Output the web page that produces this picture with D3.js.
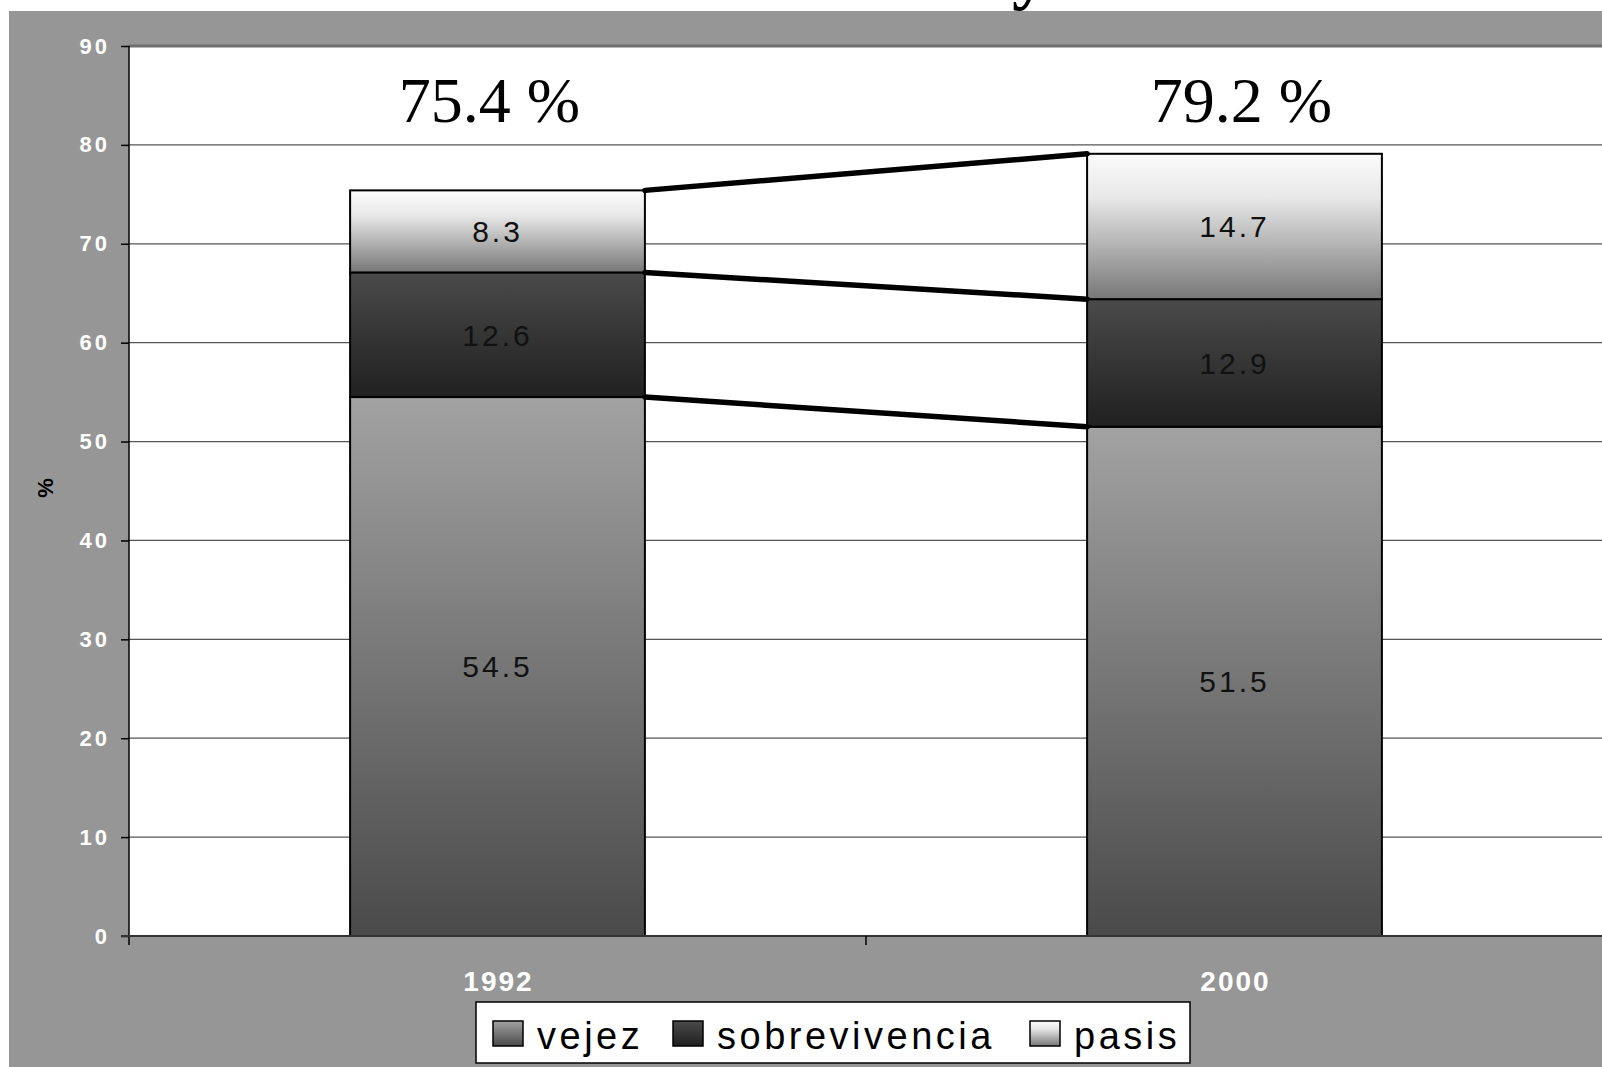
<!DOCTYPE html>
<html>
<head>
<meta charset="utf-8">
<script src="https://cdn.jsdelivr.net/npm/d3@7"></script>
<style>
  body { margin: 0; background: #fff; }
  svg { display: block; }
</style>
</head>
<body>
<svg id="chart" width="1602" height="1067"></svg>
<script>
// datos
const years = ['1992', '2000'];
const series = ['vejez', 'sobrevivencia', 'pasis'];
const vejez = [54.5, 51.5];
const sobrevivencia = [12.6, 12.9];
const pasis = [8.3, 14.7];
const totalLabels = ['75.4 %', '79.2 %'];
const yTicks = [0, 10, 20, 30, 40, 50, 60, 70, 80, 90];

const width = 1602;
const height = 1067;
const plot = { left: 129, top: 46, right: 1603, bottom: 936 };

const svg = d3.select('#chart');

// gradientes tipo Excel
const defs = svg.append('defs');
const grads = {
    vejez: [[0, '#a2a2a2'], [1, '#4a4a4a']],
    sobrevivencia: [[0, '#4a4a4a'], [1, '#202020']],
    pasis: [[0, '#fbfbfb'], [0.3, '#e8e8e8'], [1, '#777777']]
};
Object.keys(grads).forEach(k => {
    const g = defs.append('linearGradient')
        .attr('id', 'g-' + k)
        .attr('x1', 0).attr('y1', 0).attr('x2', 0).attr('y2', 1);
    grads[k].forEach(s => g.append('stop').attr('offset', s[0]).attr('stop-color', s[1]));
});

// fondo
svg.append('rect').attr('width', width).attr('height', height).attr('fill', '#fff');
svg.append('rect').attr('x', 9).attr('y', 11).attr('width', width).attr('height', height)
    .attr('fill', '#969696');
// resto del titulo (cortado por arriba, como en la diapositiva)
svg.append('text')
    .attr('x', 1030).attr('y', -4)
    .attr('text-anchor', 'middle')
    .style('font-family', '"Liberation Serif", serif')
    .style('font-weight', 'bold')
    .style('font-size', '72px')
    .text('y');

svg.append('rect')
    .attr('x', plot.left).attr('y', plot.top)
    .attr('width', plot.right - plot.left).attr('height', plot.bottom - plot.top)
    .attr('fill', '#fff');

const xScale = d3.scaleBand().domain(years).range([plot.left, plot.right]);
const yScale = d3.scaleLinear().domain([0, 90]).range([plot.bottom, plot.top]);
const barW = xScale.bandwidth() * 0.4;

// lineas de cuadricula
svg.append('g')
    .selectAll('line')
    .data(yTicks.filter(d => d > 0))
    .join('line')
    .attr('x1', plot.left).attr('x2', width)
    .attr('y1', d => yScale(d)).attr('y2', d => yScale(d))
    .attr('stroke', d => d === 90 ? '#6e6e6e' : '#555')
    .attr('stroke-width', d => d === 90 ? 3 : 1.3);

// barras apiladas
const table = years.map((yr, i) => ({ year: yr, vejez: vejez[i], sobrevivencia: sobrevivencia[i], pasis: pasis[i] }));
const stacked = d3.stack().keys(series)(table);

stacked.forEach(layer => {
    const g = svg.append('g');
    g.selectAll('rect')
        .data(layer)
        .join('rect')
        .attr('x', d => xScale(d.data.year) + (xScale.bandwidth() - barW) / 2)
        .attr('y', d => yScale(d[1]))
        .attr('width', barW)
        .attr('height', d => yScale(d[0]) - yScale(d[1]))
        .attr('fill', 'url(#g-' + layer.key + ')')
        .attr('stroke', '#000')
        .attr('stroke-width', 2);
    g.selectAll('text')
        .data(layer)
        .join('text')
        .attr('x', d => xScale(d.data.year) + xScale.bandwidth() / 2)
        .attr('y', d => yScale((d[0] + d[1]) / 2))
        .attr('dy', '0.36em')
        .attr('text-anchor', 'middle')
        .style('font-family', '"Liberation Sans", Arial, sans-serif')
        .style('font-size', '30px')
        .style('letter-spacing', '3px')
        .attr('fill', '#111')
        .text(d => d.data[layer.key]);
});

// lineas de serie
const tops = stacked.map(layer => layer.map(d => d[1]));
svg.append('g')
    .selectAll('line')
    .data(tops)
    .join('line')
    .attr('x1', xScale(years[0]) + (xScale.bandwidth() + barW) / 2)
    .attr('x2', xScale(years[1]) + (xScale.bandwidth() - barW) / 2)
    .attr('y1', d => yScale(d[0]))
    .attr('y2', d => yScale(d[1]))
    .attr('stroke', '#000')
    .attr('stroke-width', 5.5)
    .attr('stroke-linecap', 'round');

// totales
svg.append('g')
    .selectAll('text')
    .data(totalLabels)
    .join('text')
    .attr('x', (d, i) => xScale(years[i]) + xScale.bandwidth() / 2 + (i === 0 ? -8 : 7))
    .attr('y', 122)
    .attr('text-anchor', 'middle')
    .style('font-family', '"Liberation Serif", "Times New Roman", serif')
    .style('font-size', '64px')
    .attr('fill', '#000')
    .text(d => d);

// eje y
const yAxis = d3.axisLeft(yScale).tickValues(yTicks).tickSize(8).tickPadding(14);
const yG = svg.append('g')
    .attr('transform', 'translate(' + plot.left + ',0)')
    .call(yAxis);
yG.select('.domain').remove();
yG.selectAll('.tick line').attr('stroke', '#000').attr('stroke-width', 1.5);
yG.selectAll('.tick text')
    .attr('fill', '#fff')
    .attr('dx', '3px')
    .style('font-family', '"Liberation Sans", Arial, sans-serif')
    .style('font-weight', 'bold')
    .style('font-size', '22px')
    .style('letter-spacing', '3px');
svg.append('line')
    .attr('x1', plot.left).attr('x2', plot.left)
    .attr('y1', plot.top).attr('y2', plot.bottom + 9)
    .attr('stroke', '#000').attr('stroke-width', 1.5);

// eje x
const xAxis = d3.axisBottom(xScale).tickSize(0).tickPadding(35);
const xG = svg.append('g')
    .attr('transform', 'translate(0,' + plot.bottom + ')')
    .call(xAxis);
xG.select('.domain').remove();
xG.selectAll('.tick text')
    .attr('fill', '#fff')
    .attr('dx', '1px')
    .style('font-family', '"Liberation Sans", Arial, sans-serif')
    .style('font-weight', 'bold')
    .style('font-size', '28px')
    .style('letter-spacing', '2px');
svg.append('line')
    .attr('x1', plot.left - 8).attr('x2', width)
    .attr('y1', plot.bottom).attr('y2', plot.bottom)
    .attr('stroke', '#333').attr('stroke-width', 2);
svg.append('line')
    .attr('x1', xScale(years[1])).attr('x2', xScale(years[1]))
    .attr('y1', plot.bottom).attr('y2', plot.bottom + 9)
    .attr('stroke', '#000').attr('stroke-width', 1.5);

// titulo eje y
svg.append('text')
    .attr('transform', 'translate(53,488) rotate(-90)')
    .attr('text-anchor', 'middle')
    .style('font-family', '"Liberation Sans", Arial, sans-serif')
    .style('font-weight', 'bold')
    .style('font-size', '22px')
    .attr('fill', '#000')
    .text('%');

// leyenda
const legend = svg.append('g');
legend.append('rect')
    .attr('x', 476).attr('y', 1002).attr('width', 714).attr('height', 61)
    .attr('fill', '#fff').attr('stroke', '#000').attr('stroke-width', 1.5);
const legX = [493, 673, 1030];
const items = legend.selectAll('g.item')
    .data(series)
    .join('g')
    .attr('class', 'item')
    .attr('transform', (d, i) => 'translate(' + legX[i] + ',1021)');
items.append('rect')
    .attr('width', 30).attr('height', 25)
    .attr('fill', d => 'url(#g-' + d + ')')
    .attr('stroke', '#000').attr('stroke-width', 1.5);
items.append('text')
    .attr('x', 44).attr('y', 28)
    .style('font-family', '"Liberation Sans", Arial, sans-serif')
    .style('font-size', '38px')
    .style('letter-spacing', '3.5px')
    .attr('fill', '#000')
    .text(d => d);
</script>
</body>
</html>
